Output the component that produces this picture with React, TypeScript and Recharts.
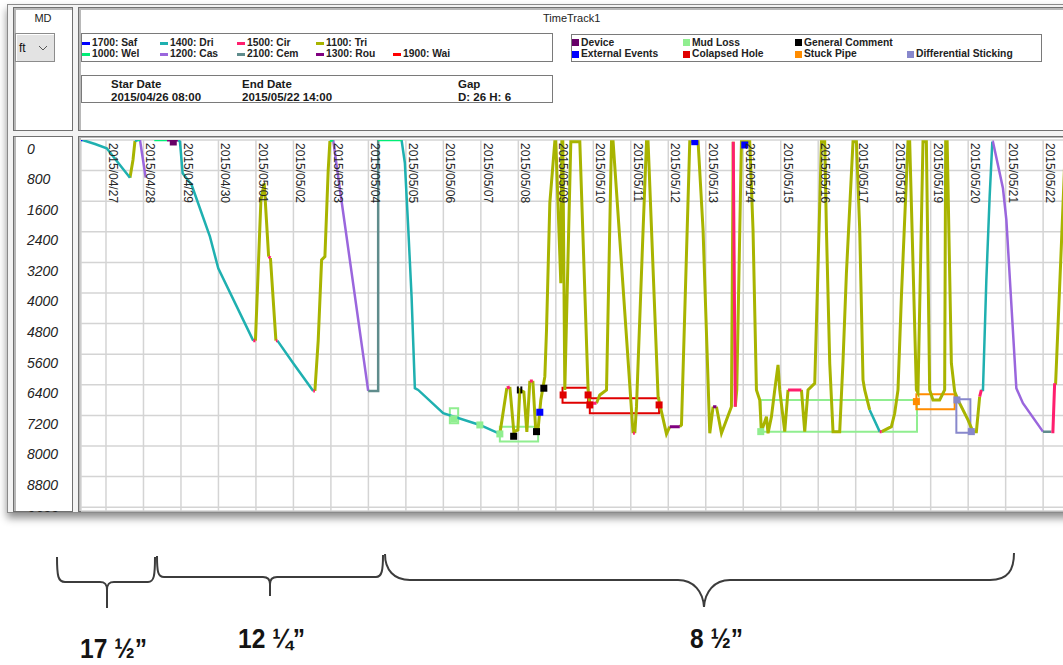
import React from 'react';
import {
  ComposedChart, Line, Scatter, XAxis, YAxis, CartesianGrid, ReferenceArea,
} from 'recharts';

type Code = 'Saf' | 'Dri' | 'Cir' | 'Tri' | 'Wel' | 'Cas' | 'Cem' | 'Rou' | 'Wai' | 'Gap';

// ---------- axes ----------
const startDay = 0.3333; // 2015/04/26 08:00 (days since 04/26 00:00)
const endDay = 26.5833; // 2015/05/22 14:00
const dayTicks = [1, 2, 3, 4, 5, 6, 7, 8, 9, 10, 11, 12, 13, 14, 15, 16, 17, 18, 19, 20, 21, 22, 23, 24, 25, 26];
const dayLabels = [
  '2015/04/27', '2015/04/28', '2015/04/29', '2015/04/30', '2015/05/01', '2015/05/02', '2015/05/03',
  '2015/05/04', '2015/05/05', '2015/05/06', '2015/05/07', '2015/05/08', '2015/05/09', '2015/05/10',
  '2015/05/11', '2015/05/12', '2015/05/13', '2015/05/14', '2015/05/15', '2015/05/16', '2015/05/17',
  '2015/05/18', '2015/05/19', '2015/05/20', '2015/05/21', '2015/05/22',
];
const depthTicks = [0, 800, 1600, 2400, 3200, 4000, 4800, 5600, 6400, 7200, 8000, 8800, 9600];
const depthMax = 9700;

// ---------- activity legend ----------
const activityRow1: Code[] = ['Saf', 'Dri', 'Cir', 'Tri'];
const activityRow2: Code[] = ['Wel', 'Cas', 'Cem', 'Rou', 'Wai'];
const activityNames: Record<string, string> = {
  Saf: '1700: Saf', Dri: '1400: Dri', Cir: '1500: Cir', Tri: '1100: Tri', Wel: '1000: Wel',
  Cas: '1200: Cas', Cem: '2100: Cem', Rou: '1300: Rou', Wai: '1900: Wai',
};
const activityColors: Record<string, string> = {
  Saf: '#0000ff', Dri: '#1fb0b0', Cir: '#ff1f6e', Tri: '#a8b400', Wel: '#00ee76',
  Cas: '#9a66dd', Cem: '#5f8c8c', Rou: '#800080', Wai: '#ff0000',
};
const activityWidths: Record<string, number> = {
  Saf: 2.5, Dri: 2.5, Cir: 3, Tri: 3, Wel: 2.5, Cas: 2.5, Cem: 2.5, Rou: 3, Wai: 2.5,
};
const drawOrder: Code[] = ['Tri', 'Dri', 'Cas', 'Cem', 'Wel', 'Rou', 'Saf', 'Wai', 'Cir'];

// ---------- depth track: [day, depth ft, activity of segment ending here] ----------
const track: [number, number, Code][] = [
  [0.333, 0, 'Saf'], [0.373, 0, 'Saf'], [0.707, 105, 'Dri'], [1.019, 217, 'Dri'], [1.64, 985, 'Dri'],
  [1.72, 523, 'Tri'], [1.773, 26, 'Tri'], [1.853, 0, 'Dri'], [1.907, 0, 'Wel'], [2.059, 985, 'Cas'],
  [2.288, 0, 'Gap'], [2.627, 0, 'Wel'], [2.92, 0, 'Rou'], [2.973, 44, 'Dri'],
  [3.045, 870, 'Dri'], [3.285, 1176, 'Dri'], [3.773, 2528, 'Dri'], [3.995, 3354, 'Dri'], [4.928, 5246, 'Dri'],
  [4.987, 5246, 'Cir'], [5.133, 1568, 'Tri'], [5.221, 1132, 'Tri'], [5.339, 3050, 'Tri'], [5.387, 3085, 'Cir'],
  [5.533, 5246, 'Tri'], [5.573, 5246, 'Cir'], [5.995, 5837, 'Dri'], [6.528, 6561, 'Dri'], [6.573, 6561, 'Cir'],
  [6.661, 5246, 'Tri'], [6.752, 3137, 'Tri'], [6.84, 3050, 'Tri'], [6.928, 784, 'Tri'], [6.973, 26, 'Tri'],
  [7.061, 0, 'Wel'], [7.187, 915, 'Cas'], [7.995, 6561, 'Cas'], [8.261, 6561, 'Cem'], [8.261, 0, 'Cem'],
  [8.885, 0, 'Wel'], [8.973, 601, 'Dri'], [9.061, 2266, 'Dri'], [9.152, 4096, 'Dri'], [9.24, 6490, 'Dri'],
  [9.328, 6535, 'Dri'], [9.995, 7144, 'Dri'], [10.973, 7450, 'Dri'], [11.507, 7685, 'Dri'],
  [11.693, 6483, 'Tri'], [11.773, 6457, 'Cir'], [11.88, 7633, 'Tri'], [11.987, 7581, 'Tri'], [12.04, 6535, 'Tri'],
  [12.147, 6587, 'Tri'], [12.227, 7633, 'Tri'], [12.307, 6300, 'Tri'], [12.387, 6300, 'Cir'], [12.467, 7633, 'Tri'],
  [12.52, 7633, 'Tri'], [12.6, 6796, 'Tri'], [12.707, 6187, 'Tri'], [12.752, 4967, 'Tri'], [12.84, 1647, 'Tri'],
  [12.973, 44, 'Tri'], [13.0, 44, 'Tri'], [13.133, 3746, 'Tri'], [13.16, 44, 'Tri'], [13.187, 44, 'Tri'],
  [13.24, 6535, 'Tri'], [13.4, 44, 'Tri'], [13.64, 44, 'Tri'], [13.861, 6535, 'Tri'], [13.907, 6883, 'Tri'],
  [14.085, 6883, 'Cir'], [14.173, 6666, 'Tri'], [14.352, 6535, 'Tri'], [14.485, 44, 'Tri'], [14.528, 44, 'Tri'],
  [15.061, 7667, 'Tri'], [15.107, 7667, 'Cir'], [15.152, 6972, 'Tri'], [15.328, 2353, 'Tri'], [15.419, 44, 'Tri'],
  [15.461, 44, 'Tri'], [15.728, 6710, 'Tri'], [15.952, 7685, 'Tri'], [16.04, 7494, 'Tri'], [16.307, 7494, 'Rou'],
  [16.352, 7450, 'Tri'], [16.573, 44, 'Tri'], [16.795, 44, 'Tri'], [16.928, 2353, 'Tri'], [17.107, 7667, 'Tri'],
  [17.195, 6972, 'Tri'], [17.285, 6972, 'Rou'], [17.419, 7667, 'Tri'], [17.685, 6972, 'Tri'], [17.733, 44, 'Tri'],
  [17.787, 6972, 'Cir'], [17.827, 6535, 'Tri'], [17.952, 44, 'Tri'], [18.173, 44, 'Tri'], [18.261, 2353, 'Tri'],
  [18.352, 6535, 'Tri'], [18.44, 6796, 'Tri'], [18.485, 7625, 'Tri'], [18.619, 7233, 'Tri'], [18.661, 7667, 'Tri'],
  [18.752, 7233, 'Tri'], [18.84, 6535, 'Tri'], [18.928, 5882, 'Tri'], [18.973, 6535, 'Tri'], [19.107, 7625, 'Tri'],
  [19.195, 6535, 'Tri'], [19.552, 6535, 'Cir'], [19.64, 7625, 'Tri'], [19.728, 6535, 'Tri'], [19.907, 6360, 'Tri'],
  [19.995, 3312, 'Tri'], [20.085, 44, 'Tri'], [20.173, 44, 'Tri'], [20.219, 2353, 'Tri'], [20.307, 5837, 'Tri'],
  [20.395, 7625, 'Tri'], [20.573, 7625, 'Tri'], [20.661, 5795, 'Tri'], [20.752, 3484, 'Tri'], [20.928, 44, 'Tri'],
  [21.019, 44, 'Tri'], [21.107, 2353, 'Tri'], [21.195, 6274, 'Tri'], [21.24, 6535, 'Tri'], [21.373, 7058, 'Tri'],
  [21.64, 7625, 'Dri'], [21.693, 7625, 'Cir'], [21.952, 7494, 'Tri'], [22.04, 7144, 'Tri'], [22.128, 6535, 'Tri'],
  [22.219, 4096, 'Tri'], [22.395, 44, 'Tri'], [22.44, 44, 'Tri'], [22.528, 3223, 'Tri'], [22.619, 6535, 'Tri'],
  [22.661, 6613, 'Tri'], [22.795, 44, 'Tri'], [22.885, 44, 'Tri'], [22.973, 6535, 'Tri'], [23.061, 6796, 'Tri'],
  [23.24, 6796, 'Tri'], [23.373, 6535, 'Tri'], [23.4, 44, 'Tri'], [23.44, 44, 'Tri'], [23.552, 5837, 'Tri'],
  [23.64, 6579, 'Tri'], [23.728, 6796, 'Tri'], [23.995, 7319, 'Tri'], [24.128, 7625, 'Tri'], [24.219, 7625, 'Tri'],
  [24.307, 6710, 'Tri'], [24.352, 6535, 'Cir'], [24.395, 6535, 'Dri'], [24.485, 3660, 'Dri'], [24.573, 1482, 'Dri'],
  [24.645, 44, 'Dri'], [24.661, 44, 'Cas'], [24.928, 1263, 'Cas'], [25.019, 2091, 'Cas'], [25.285, 6490, 'Cas'],
  [25.461, 6883, 'Cas'], [25.995, 7625, 'Cas'], [26.219, 7625, 'Cem'], [26.261, 7625, 'Cir'], [26.307, 6360, 'Cir'],
  [26.333, 6360, 'Tri'], [26.485, 2789, 'Tri'], [26.6, 0, 'Tri'],
];

// ---------- events: boxes [dayFrom, dayTo, depthTop, depthBottom] ----------
const mudLossBoxes: [number, number, number, number][] = [
  [10.173, 10.395, 7014, 7406], [11.507, 12.528, 7494, 7886], [18.467, 22.635, 6796, 7625],
];
const collapsedHoleBoxes: [number, number, number, number][] = [
  [13.179, 13.861, 6475, 6867], [13.907, 15.755, 6752, 7144],
];
const stuckPipeBoxes: [number, number, number, number][] = [[22.619, 23.64, 6647, 7040]];
const diffStickingBoxes: [number, number, number, number][] = [[23.685, 24.059, 6778, 7651]];

// ---------- events: point markers [day, depth] ----------
const deviceMarks: [number, number][] = [[2.795, 52]];
const mudLossMarks: [number, number][] = [[10.28, 7290], [10.973, 7450], [11.507, 7685], [18.467, 7625]];
const commentMarks: [number, number][] = [[11.875, 7746], [12.485, 7625], [12.68, 6490]];
const commentTicks: [number, number][] = [[11.987, 6535], [12.08, 6535]];
const externalMarks: [number, number][] = [[12.573, 7118], [16.707, 44], [18.04, 131]];
const collapsedMarks: [number, number][] = [[13.195, 6666], [13.861, 6666], [13.907, 6927], [15.755, 6927]];
const stuckPipeMarks: [number, number][] = [[22.619, 6840]];
const diffStickMarks: [number, number][] = [[23.701, 6796], [24.085, 7625]];

// ---------- event legend ----------
const eventRow1 = ['Device', 'Mud Loss', 'General Comment'];
const eventRow2 = ['External Events', 'Colapsed Hole', 'Stuck Pipe', 'Differential Sticking'];
const eventColors: Record<string, string> = {
  Device: '#660066', 'Mud Loss': '#90ee90', 'General Comment': '#000000', 'External Events': '#0000ff',
  'Colapsed Hole': '#e00000', 'Stuck Pipe': '#ff8c00', 'Differential Sticking': '#8888cc',
};

// ---------- header texts ----------
const dateHeaders = ['Star Date', 'End Date', 'Gap'];
const dateValues = ['2015/04/26 08:00', '2015/05/22 14:00', 'D: 26 H: 6'];
const bitSizes = ['17 ½”', '12 ¼”', '8 ½”'];

// ---------- build per-activity line data with breaks ----------
type Pt = { day: number; depth: number | null };
function buildSeries(): Record<string, Pt[]> {
  const out: Record<string, Pt[]> = {};
  let prev: Code | null = null;
  for (let i = 1; i < track.length; i++) {
    const [d0, v0] = track[i - 1];
    const [d1, v1, c] = track[i];
    if (!out[c]) out[c] = [];
    const arr = out[c];
    if (prev !== c) {
      if (arr.length) arr.push({ day: d0, depth: null });
      arr.push({ day: d0, depth: v0 });
    }
    arr.push({ day: d1, depth: v1 });
    prev = c;
  }
  return out;
}
const series = buildSeries();
const toPts = (a: [number, number][]) => a.map(([day, depth]) => ({ day, depth }));

const FONT = '"Liberation Sans", Arial, Helvetica, sans-serif';

const squareShape = (color: string, w = 7, h = 7) => (p: any) => (
  <rect x={p.cx - w / 2} y={p.cy - h / 2} width={w} height={h} fill={color} />
);

const DateTick = (p: any) => {
  const x = p.x + 3;
  const idx = dayTicks.indexOf(p.payload.value);
  return (
    <text x={x} y={5} transform={`rotate(90 ${x} 5)`} fontSize={12} fill="#262626"
      fontFamily={FONT} textAnchor="start">{dayLabels[idx]}</text>
  );
};

const DepthTick = (p: any) => (
  <text x={14} y={p.y + 13.5} fontSize={14} fontStyle="italic" fill="#222" fontFamily={FONT}
    textAnchor="start">{String(p.payload.value)}</text>
);

const abs = (s: React.CSSProperties): React.CSSProperties => ({ position: 'absolute', ...s });

export default function App() {
  const legCols1 = [82, 160, 237, 316, 393];
  const legCols2 = [572, 683, 795, 907];
  const rowTop = [36.5, 48];
  const boxes = (arr: [number, number, number, number][], color: string, key: string) =>
    arr.map(([x1, x2, y1, y2], i) => (
      <ReferenceArea key={key + i} x1={x1} x2={x2} y1={y1} y2={y2} fill="none" stroke={color}
        strokeWidth={2} ifOverflow="visible" />
    ));

  return (
    <div style={abs({ left: 0, top: 0, width: 1063, height: 665, overflow: 'hidden', background: '#fff', fontFamily: FONT })}>
      {/* window frame */}
      <div style={abs({ left: 7, top: 4, width: 1080, height: 507, border: '1px solid #8a8a8a', background: '#f3f3f3', boxShadow: '0 5px 8px rgba(0,0,0,0.45)' })} />
      {/* left panels */}
      <div style={abs({ left: 13, top: 7, width: 58, height: 122, border: '1px solid #707070', boxShadow: 'inset 2px 2px 0 #b8b8b8', background: '#fff' })} />
      <div style={abs({ left: 13, top: 136, width: 58, height: 374, border: '1px solid #707070', boxShadow: 'inset 2px 0 0 #b8b8b8', background: '#fff' })} />
      {/* right panels */}
      <div style={abs({ left: 78, top: 7, width: 1000, height: 122, border: '1px solid #707070', boxShadow: 'inset 2px 2px 0 #b8b8b8', background: '#fff' })} />
      <div style={abs({ left: 78, top: 136, width: 1000, height: 374, border: '1px solid #707070', boxShadow: 'inset 2px 1px 0 #b8b8b8', background: '#fff' })} />

      {/* MD + unit */}
      <div style={abs({ left: 13, top: 12, width: 60, textAlign: 'center', fontSize: 11, color: '#222' })}>MD</div>
      <div style={abs({ left: 15, top: 33, width: 38, height: 27, border: '1px solid #8c8c8c', background: '#e3e3e3', boxShadow: 'inset 1px 1px 0 #fff' })}>
        <span style={abs({ left: 3, top: 7, fontSize: 12, color: '#111' })}>ft</span>
        <svg style={abs({ left: 22, top: 11, width: 10, height: 6 })} viewBox="0 0 10 6">
          <path d="M1,1 L5,5 L9,1" stroke="#555" strokeWidth={1} fill="none" />
        </svg>
      </div>

      {/* title */}
      <div style={abs({ left: 543, top: 12, fontSize: 11, color: '#222' })}>TimeTrack1</div>

      {/* activity legend */}
      <div style={abs({ left: 81, top: 33, width: 470, height: 27, border: '1px solid #7a7a7a', background: '#fff' })} />
      {[activityRow1, activityRow2].map((row, r) => row.map((c, i) => (
        <React.Fragment key={c}>
          <div style={abs({ left: legCols1[i], top: rowTop[r] + 5, width: 8, height: 3, background: activityColors[c] })} />
          <div style={abs({ left: legCols1[i] + 10, top: rowTop[r], fontSize: 10.3, fontWeight: 'bold', color: '#222', lineHeight: '12px', whiteSpace: 'nowrap' })}>{activityNames[c]}</div>
        </React.Fragment>
      )))}

      {/* event legend */}
      <div style={abs({ left: 571, top: 34, width: 469, height: 26, border: '1px solid #7a7a7a', background: '#fff' })} />
      {[eventRow1, eventRow2].map((row, r) => row.map((e, i) => (
        <React.Fragment key={e}>
          <div style={abs({ left: legCols2[i], top: rowTop[r] + 2.5, width: 7, height: 7, background: eventColors[e] })} />
          <div style={abs({ left: legCols2[i] + 9, top: rowTop[r], fontSize: 10.3, fontWeight: 'bold', color: '#222', lineHeight: '12px', whiteSpace: 'nowrap' })}>{e}</div>
        </React.Fragment>
      )))}

      {/* date box */}
      <div style={abs({ left: 81, top: 75, width: 470, height: 26, border: '1px solid #7a7a7a', background: '#fff' })} />
      {dateHeaders.map((h, i) => (
        <div key={h} style={abs({ left: [111, 242, 458][i], top: 78, fontSize: 11.5, fontWeight: 'bold', color: '#1a1a1a', lineHeight: '12.5px', whiteSpace: 'nowrap' })}>
          {h}<br />{dateValues[i]}
        </div>
      ))}

      {/* chart */}
      <div style={abs({ left: 13, top: 138, width: 1052, height: 374, overflow: 'hidden' })}>
        <ComposedChart width={1052} height={374} margin={{ top: 1, right: 0, bottom: 1, left: 0 }}>
          <CartesianGrid stroke="#d4d4d4" strokeWidth={1.5} />
          <XAxis type="number" dataKey="day" domain={[startDay, endDay]} ticks={dayTicks} interval={0}
            orientation="top" height={1} axisLine={false} tickLine={false} tick={DateTick} allowDataOverflow />
          <YAxis type="number" dataKey="depth" domain={[0, depthMax]} ticks={depthTicks} interval={0} reversed
            width={68} axisLine={false} tickLine={false} tick={DepthTick} allowDataOverflow />
          {drawOrder.filter((c) => series[c]).map((c) => (
            <Line key={c} data={series[c]} dataKey="depth" type="linear" stroke={activityColors[c]}
              strokeWidth={activityWidths[c]} dot={false} activeDot={false} connectNulls={false}
              isAnimationActive={false} legendType="none" />
          ))}
          {boxes(mudLossBoxes, '#90ee90', 'ml')}
          {boxes(collapsedHoleBoxes, '#e00000', 'ch')}
          {boxes(stuckPipeBoxes, '#ff8c00', 'sp')}
          {boxes(diffStickingBoxes, '#8888cc', 'ds')}
          <Scatter data={toPts(deviceMarks)} shape={squareShape('#660066')} isAnimationActive={false} />
          <Scatter data={toPts(mudLossMarks)} shape={squareShape('#90ee90')} isAnimationActive={false} />
          <Scatter data={toPts(commentMarks)} shape={squareShape('#000')} isAnimationActive={false} />
          <Scatter data={toPts(commentTicks)} shape={squareShape('#000', 2, 7)} isAnimationActive={false} />
          <Scatter data={toPts(externalMarks)} shape={squareShape('#0000ff')} isAnimationActive={false} />
          <Scatter data={toPts(collapsedMarks)} shape={squareShape('#e00000')} isAnimationActive={false} />
          <Scatter data={toPts(stuckPipeMarks)} shape={squareShape('#ff8c00')} isAnimationActive={false} />
          <Scatter data={toPts(diffStickMarks)} shape={squareShape('#8888cc')} isAnimationActive={false} />
        </ComposedChart>
      </div>

      {/* bit size braces */}
      <svg style={abs({ left: 0, top: 0, width: 1063, height: 665, pointerEvents: 'none' })} width={1063} height={665}>
        <g stroke="#3c3c3c" strokeWidth={2} fill="none">
          <path d="M57,557 C57,576 58,582 65,582 L100,582 C105,582 107,584 107,590 L107,608 M107,590 C107,584 109,582 114,582 L148,582 C154,582 155,576 155,557" />
          <path d="M157,556 C157,572 158,577 164,577 L263,577 C268,577 270,579 270,584 L270,596 M270,584 C270,579 272,577 277,577 L376,577 C382,577 383,570 383,555" />
          <path d="M385,554 C385,570 394,580 410,580 L678,580 C694,580 703,592 704,607 C705,592 714,580 730,580 L990,580 C1008,580 1014,570 1014,553" />
        </g>
        <g fontFamily={FONT} fontWeight="bold" fontSize={28} fill="#141414">
          <text x={80} y={658} textLength={67} lengthAdjust="spacingAndGlyphs">{bitSizes[0]}</text>
          <text x={238} y={648} textLength={67} lengthAdjust="spacingAndGlyphs">{bitSizes[1]}</text>
          <text x={690} y={648} textLength={53} lengthAdjust="spacingAndGlyphs">{bitSizes[2]}</text>
        </g>
      </svg>
    </div>
  );
}
